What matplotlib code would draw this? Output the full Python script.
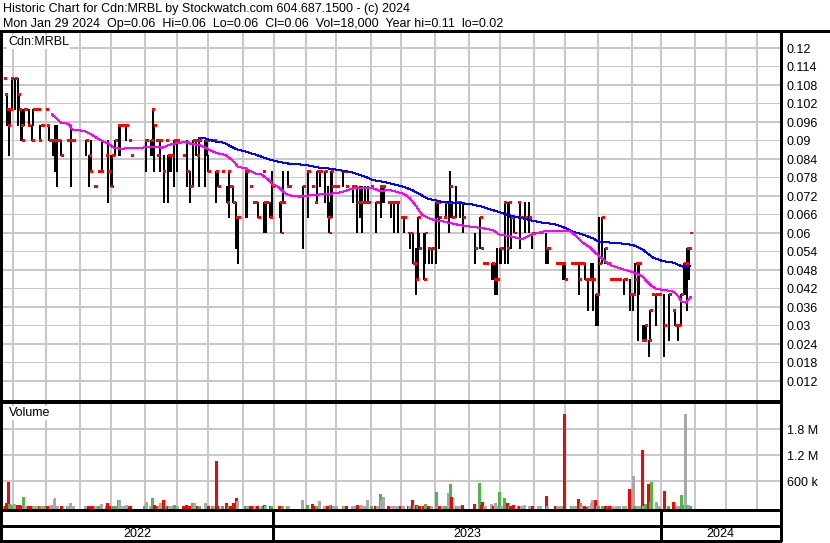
import numpy as np
import matplotlib
matplotlib.use('Agg')
import matplotlib.pyplot as plt
from matplotlib.lines import Line2D

plt.rcParams['font.family'] = ['Liberation Sans', 'DejaVu Sans']

# trading days counted from the first bar (late April 2022), prices in half cents
day = [0, 1, 2, 3, 4, 5, 7, 9, 10, 11, 12, 13, 14, 16, 18, 19, 20, 22, 23, 24,
	25, 27, 28, 29, 30, 31, 32, 33, 34, 35, 37, 41, 42, 43, 44, 45, 53, 55, 56, 58,
	59, 61, 63, 66, 67, 69, 70, 72, 74, 75, 76, 77, 79, 81, 82,
	91, 92, 95, 96, 97, 98, 99, 100, 101, 103, 105, 106, 107, 108, 110, 112, 116, 118, 120, 122,
	123, 124, 125, 126, 130, 131, 132, 135, 136, 137, 138, 141, 144, 145, 146, 148, 150, 151, 156, 157,
	159, 161, 162, 164, 167, 168, 169, 172, 173,
	178, 179, 180, 183, 184, 193, 196, 199, 201, 202, 204, 207, 209, 210, 211, 212, 213, 214, 215, 219,
	220, 221, 225, 226, 228, 230, 231, 232, 233, 235, 237, 240, 241, 243, 244, 245, 248, 250, 252, 254,
	256, 257, 258, 261, 262, 264,
	265, 266, 267, 268, 271, 272, 274, 276, 279, 280, 281, 284, 285, 287, 288, 289, 292, 293, 294, 296,
	304, 307, 308, 309, 310, 311, 315, 316, 317, 318, 320, 321, 323, 325, 326, 327, 329, 332, 333, 334,
	336, 339, 341, 345, 346, 350, 351,
	356, 357, 358, 359, 361, 362, 366, 367, 369, 370, 371, 372, 373, 375, 377, 379, 380, 382, 383, 384,
	386, 388, 389, 390, 391, 393, 395, 396, 397, 400, 401, 404, 406, 407, 408, 409, 410, 412, 413, 414,
	416, 417, 418, 421, 423, 426, 429, 432, 433, 434, 435, 437, 439, 440, 441, 442, 443]
high = [22, 21, 21, 20, 20, 22, 22, 22, 21, 20, 20, 20, 20, 20, 19, 20, 20, 20, 19, 19,
	19, 20, 19, 19, 18, 18, 18, 19, 19, 18, 18, 18, 18, 19, 18, 18, 18, 17, 18, 15,
	15, 16, 18, 17, 18, 17, 17, 18, 19, 19, 19, 19, 19, 18, 17,
	18, 18, 18, 20, 19, 18, 17, 18, 18, 17, 18, 17, 17, 17, 18, 18, 17, 18, 16, 18,
	18, 18, 17, 18, 18, 18, 17, 18, 18, 16, 16, 16, 15, 16, 15, 15, 14, 13, 16, 16,
	15, 14, 14, 14, 16, 14, 14, 14, 16,
	14, 14, 16, 16, 15, 15, 16, 15, 14, 16, 16, 16, 15, 14, 16, 16, 15, 15, 15, 16,
	16, 15, 15, 15, 15, 15, 15, 14, 15, 15, 15, 14, 14, 15, 15, 15, 14, 14, 14, 14,
	13, 13, 13, 12, 12, 12,
	10, 11, 13, 12, 12, 12, 11, 11, 14, 14, 13, 13, 14, 14, 16, 14, 15, 14, 14, 14,
	12, 13, 11, 10, 10, 10, 10, 10, 10, 11, 11, 11, 14, 14, 14, 13, 13, 14, 14, 13,
	14, 14, 12, 12, 12, 12, 11,
	10, 10, 10, 10, 10, 10, 10, 10, 10, 10, 10, 10, 10, 10, 9, 10, 10, 8, 8, 13,
	13, 11, 10, 10, 9, 9, 9, 9, 9, 9, 9, 9, 8, 10, 10, 10, 10, 6, 6, 6,
	5, 7, 8, 8, 8, 8, 8, 7, 7, 6, 6, 8, 10, 10, 11, 11, 12]
low = [22, 21, 19, 17, 19, 20, 20, 19, 20, 18, 18, 19, 20, 19, 18, 19, 20, 20, 18, 19,
	19, 20, 19, 18, 18, 18, 17, 16, 15, 18, 17, 18, 18, 15, 18, 18, 17, 15, 16, 15,
	15, 16, 16, 17, 14, 15, 15, 17, 17, 17, 19, 19, 18, 18, 17,
	18, 16, 17, 17, 16, 18, 17, 18, 16, 14, 18, 14, 16, 16, 15, 16, 17, 15, 14, 15,
	18, 17, 17, 15, 15, 17, 16, 18, 18, 14, 15, 16, 14, 13, 15, 14, 11, 10, 13, 13,
	15, 14, 14, 13, 16, 12, 12, 13, 13,
	13, 12, 14, 15, 15, 11, 13, 15, 14, 14, 15, 14, 13, 12, 13, 13, 15, 15, 15, 15,
	16, 15, 14, 15, 12, 13, 12, 14, 14, 14, 15, 12, 14, 13, 14, 14, 14, 13, 12, 12,
	13, 13, 12, 12, 11, 10,
	10, 8, 9, 11, 9, 10, 10, 10, 10, 13, 11, 13, 13, 12, 13, 13, 13, 14, 13, 12,
	10, 11, 11, 10, 10, 10, 9, 9, 8, 8, 10, 10, 10, 10, 13, 11, 12, 14, 11, 13,
	12, 12, 11, 12, 12, 10, 10,
	10, 10, 10, 10, 9, 9, 10, 10, 10, 10, 8, 10, 10, 9, 7, 9, 7, 6, 6, 8,
	10, 10, 10, 10, 9, 9, 9, 9, 9, 8, 9, 7, 7, 8, 10, 5, 8, 5, 5, 5,
	4, 5, 8, 6, 8, 4, 5, 7, 6, 6, 5, 6, 8, 8, 7, 9, 12]
close = [22, 21, 20, 19, 20, 22, 22, 21, 20, 19, 18, 20, 20, 19, 18, 20, 20, 20, 18, 19,
	19, 20, 19, 18, 18, 18, 18, 18, 18, 18, 17, 18, 18, 18, 18, 18, 18, 17, 16, 15,
	15, 16, 16, 17, 16, 15, 17, 18, 19, 19, 19, 19, 19, 18, 17,
	18, 18, 18, 20, 19, 18, 17, 18, 18, 16, 18, 17, 17, 17, 18, 18, 17, 16, 15, 18,
	18, 18, 17, 18, 18, 18, 16, 18, 18, 16, 15, 16, 14, 16, 15, 14, 13, 13, 16, 16,
	15, 14, 14, 13, 16, 14, 14, 13, 15,
	14, 12, 14, 15, 15, 15, 16, 15, 14, 16, 16, 16, 13, 12, 16, 15, 15, 15, 15, 16,
	16, 15, 15, 15, 14, 14, 14, 14, 14, 14, 15, 14, 14, 15, 15, 15, 14, 14, 14, 14,
	13, 13, 13, 12, 12, 10,
	10, 9, 13, 11, 9, 12, 11, 11, 14, 14, 13, 13, 14, 14, 15, 13, 14, 14, 14, 13,
	11, 13, 11, 10, 10, 10, 10, 9, 9, 9, 11, 11, 14, 11, 14, 13, 12, 14, 13, 13,
	13, 13, 12, 12, 12, 11, 11,
	10, 10, 10, 10, 10, 9, 10, 10, 10, 10, 9, 10, 10, 9, 9, 9, 9, 8, 8, 10,
	13, 11, 10, 10, 9, 9, 9, 9, 9, 9, 9, 8, 8, 9, 10, 10, 10, 5, 5, 6,
	5, 7, 8, 8, 8, 6, 8, 7, 6, 6, 6, 8, 10, 10, 11, 11, 12]
volume_k = [10, 10, 75, 560, 60, 40, 60, 40, 40, 10, 10, 230, 10, 10, 15, 10, 10, 10, 10, 10,
	15, 10, 10, 10, 10, 25, 10, 185, 10, 10, 10, 15, 10, 70, 10, 10, 10, 15, 10, 10,
	10, 10, 55, 10, 70, 15, 15, 10, 140, 140, 10, 15, 25, 10, 10,
	10, 115, 10, 205, 25, 10, 10, 10, 70, 160, 10, 10, 10, 10, 45, 10, 10, 45, 10, 90,
	75, 10, 10, 10, 90, 10, 10, 10, 10, 1060, 10, 10, 90, 10, 10, 90, 205, 120, 10, 10,
	10, 10, 10, 10, 10, 45, 10, 10, 10,
	15, 10, 10, 15, 10, 140, 30, 60, 10, 10, 120, 10, 10, 10, 25, 10, 10, 10, 10, 10,
	10, 10, 10, 10, 25, 10, 30, 10, 10, 145, 10, 10, 10, 300, 140, 215, 10, 10, 10, 10,
	10, 10, 10, 10, 10, 160,
	40, 40, 10, 10, 10, 65, 10, 10, 345, 15, 10, 10, 10, 315, 525, 230, 10, 10, 10, 45,
	65, 545, 25, 110, 10, 10, 55, 10, 90, 10, 345, 10, 205, 70, 10, 10, 40, 10, 15, 10,
	40, 10, 10, 10, 10, 250, 10,
	10, 10, 10, 10, 10, 2130, 10, 10, 10, 10, 180, 90, 10, 10, 10, 90, 140, 155, 15, 15,
	10, 10, 10, 10, 10, 10, 10, 10, 10, 10, 10, 410, 715, 10, 10, 10, 10, 1300, 10, 60,
	530, 100, 555, 100, 10, 350, 10, 100, 10, 10, 10, 270, 25, 2130, 25, 10, 18]

# moving averages
ma_fast_day = [31, 37, 42, 44, 49, 53, 58, 62, 68, 71, 77, 79, 88, 95, 102, 105, 108, 114, 118, 121,
	126, 130, 133, 137, 143, 146, 149, 151, 156, 160, 163, 166, 168, 171, 173, 177, 179, 182, 186, 191,
	195, 202, 208, 215, 219, 225, 232, 238, 243, 249, 253, 258, 262, 266, 268, 270, 274, 278, 284, 291,
	297, 304, 310, 316, 320, 325, 330, 334, 337, 340, 345, 349, 355, 361, 365, 369, 374, 378, 382, 387,
	391, 397, 406, 412, 417, 421, 427, 432, 435, 437, 440, 443]
ma_fast = [0.0985, 0.0958, 0.0954, 0.0936, 0.0933, 0.0929, 0.0915, 0.0902, 0.0889, 0.0876,
	0.0872, 0.0876, 0.0876, 0.0880, 0.0877, 0.0882, 0.0888, 0.0893, 0.0896, 0.0888,
	0.0886, 0.0877, 0.0869, 0.0860, 0.0853, 0.0842, 0.0828, 0.0815, 0.0810, 0.0799,
	0.0792, 0.0792, 0.0783, 0.0772, 0.0759, 0.0750, 0.0740, 0.0727, 0.0720, 0.0718,
	0.0721, 0.0724, 0.0727, 0.0729, 0.0734, 0.0744, 0.0747, 0.0745, 0.0736, 0.0740,
	0.0734, 0.0727, 0.0712, 0.0688, 0.0672, 0.0659, 0.0648, 0.0642, 0.0637, 0.0629,
	0.0623, 0.0619, 0.0615, 0.0608, 0.0594, 0.0591, 0.0586, 0.0580, 0.0586, 0.0594,
	0.0601, 0.0606, 0.0608, 0.0608, 0.0607, 0.0591, 0.0567, 0.0554, 0.0534, 0.0513,
	0.0497, 0.0486, 0.0473, 0.0459, 0.0432, 0.0418, 0.0415, 0.0410, 0.0396, 0.0378,
	0.0374, 0.0392]
ma_slow_day = [126, 130, 133, 137, 142, 146, 150, 154, 158, 162, 166, 171, 175, 182, 189, 195, 202, 210, 219, 225,
	232, 238, 245, 251, 258, 264, 269, 274, 278, 282, 289, 295, 302, 308, 315, 320, 325, 330, 336, 342,
	347, 355, 361, 367, 374, 380, 384, 391, 397, 406, 412, 419, 425, 432, 438, 443]
ma_slow = [0.0909, 0.0907, 0.0902, 0.0896, 0.0893, 0.0882, 0.0872, 0.0867, 0.0861, 0.0855,
	0.0848, 0.0839, 0.0834, 0.0826, 0.0823, 0.0821, 0.0813, 0.0809, 0.0802, 0.0796,
	0.0785, 0.0772, 0.0766, 0.0759, 0.0750, 0.0738, 0.0724, 0.0710, 0.0707, 0.0702,
	0.0699, 0.0697, 0.0693, 0.0686, 0.0675, 0.0667, 0.0659, 0.0653, 0.0646, 0.0639,
	0.0634, 0.0629, 0.0619, 0.0605, 0.0594, 0.0583, 0.0572, 0.0569, 0.0567, 0.0561,
	0.0547, 0.0520, 0.0509, 0.0504, 0.0491, 0.0493]

# first trading day of each month, May 2022 .. Apr 2024
month_start = [6, 27, 49, 69, 91, 112, 132, 154, 174, 195, 214, 237, 256, 278, 300, 320,
	342, 362, 383, 405, 424, 446, 466, 486]
year_start = [174, 424]
year_names = ['2022', '2023', '2024']

price_ticks = np.round(np.arange(0.012, 0.1201, 0.006), 3)
vol_ticks = [600, 1200, 1800]
vol_labels = ['600 k', '1.2 M', '1.8 M']

title1 = 'Historic Chart for Cdn:MRBL by Stockwatch.com 604.687.1500 - (c) 2024'
title2 = 'Mon Jan 29 2024  Op=0.06  Hi=0.06  Lo=0.06  Cl=0.06  Vol=18,000  Year hi=0.11  lo=0.02'

W, H = 830, 543
X0, X1 = -1.1, 500.8
GRID = '#c8c8c8'
FS = 9.0
PX = 0.72  # one pixel in points
CRISP = dict(antialiased=False, snap=False)


def fx(px):
	return px / W


def fy(py):
	return 1 - py / H


def rect(x0, y0, x1, y1):
	return [fx(x0), fy(y1), fx(x1) - fx(x0), fy(y0) - fy(y1)]


def black_line(xs, ys, w=2):
	fig.add_artist(Line2D([fx(v) for v in xs], [fy(v) for v in ys], color='black',
		lw=w * PX, solid_capstyle='butt', **CRISP))


fig = plt.figure(figsize=(W / 100, H / 100), dpi=100)
ax = fig.add_axes(rect(2, 33, 780, 400))
axv = fig.add_axes(rect(2, 403, 780, 509))
axy = fig.add_axes(rect(2, 511, 780, 541))

for a in (ax, axv, axy):
	a.set_xlim(X0, X1)
	a.set_xticks([])
	for s in a.spines.values():
		s.set_visible(False)
for a in (ax, axv):
	for m in month_start:
		a.axvline(m + 0.1, color=GRID, lw=PX, zorder=1, **CRISP)

# price panel
x = np.array(day)
hi_p = np.array(high) * 0.005
lo_p = np.array(low) * 0.005
cl_p = np.array(close) * 0.005
ax.set_ylim(0.005838, 0.124865)
for t in price_ticks:
	ax.axhline(t, color=GRID, lw=PX, zorder=1, **CRISP)
ax.vlines(x + 0.1, lo_p, hi_p, colors='black', lw=PX, zorder=3, **CRISP)
ax.hlines(cl_p, x + 0.3, x + 1.6, colors='red', lw=2 * PX, zorder=4, **CRISP)
ax.plot(ma_slow_day, ma_slow, color='#0000ff', lw=PX, zorder=5, **CRISP)
ax.plot(ma_fast_day, ma_fast, color='#ff00ff', lw=PX, zorder=5, **CRISP)
ax.yaxis.tick_right()
ax.set_yticks(price_ticks)
ax.set_yticklabels(['%g' % t for t in price_ticks])
ax.tick_params(axis='y', length=0, pad=5, labelsize=FS)
ax.text(fx(8), fy(42), 'Cdn:MRBL', transform=fig.transFigure, fontsize=FS, va='center', ha='left',
	bbox=dict(facecolor='white', edgecolor='none', pad=0.5), zorder=6)

# volume panel
vb = -46
vcol = []
for k in range(len(close)):
	if k == 0 or close[k] == close[k - 1]:
		vcol.append('#a8a8a8')
	elif close[k] > close[k - 1]:
		vcol.append('#4cb84c')
	else:
		vcol.append('#ff0000')
axv.set_ylim(vb, 2400)
for t in vol_ticks:
	axv.axhline(t, color=GRID, lw=PX, zorder=1, **CRISP)
axv.bar(x, np.array(volume_k) - vb, bottom=vb, width=1.3, color=vcol, lw=0, zorder=3, **CRISP)
axv.yaxis.tick_right()
axv.set_yticks(vol_ticks)
axv.set_yticklabels(vol_labels)
axv.tick_params(axis='y', length=0, pad=5, labelsize=FS)
axv.text(fx(9), fy(413), 'Volume', transform=fig.transFigure, fontsize=FS, va='center', ha='left',
	bbox=dict(facecolor='white', edgecolor='none', pad=0.5), zorder=6)

# year row
axy.set_ylim(0, 1)
axy.set_yticks([])
bounds = [X0] + year_start + [X1]
for k, name in enumerate(year_names):
	axy.text((bounds[k] + bounds[k + 1]) / 2, 0.23, name, fontsize=FS, ha='center', va='center')
for b in year_start:
	axy.axvline(b + 0.1, color='black', lw=2 * PX, **CRISP)

# frame
black_line([0, W], [31.6, 31.6])
black_line([1.1, 1.1], [31, 542])
black_line([781.1, 781.1], [31, 542])
black_line([2, 780], [400.6, 400.6], 1)
black_line([2, 780], [402.6, 402.6], 1)
black_line([0, 782], [510.1, 510.1])
black_line([0, 782], [526.1, 526.1])
black_line([0, 782], [541.1, 541.1])

fig.text(fx(3), fy(9), title1, fontsize=FS, va='center', ha='left')
fig.text(fx(3), fy(24), title2, fontsize=FS, va='center', ha='left')

fig.savefig('out.png', dpi=100)
